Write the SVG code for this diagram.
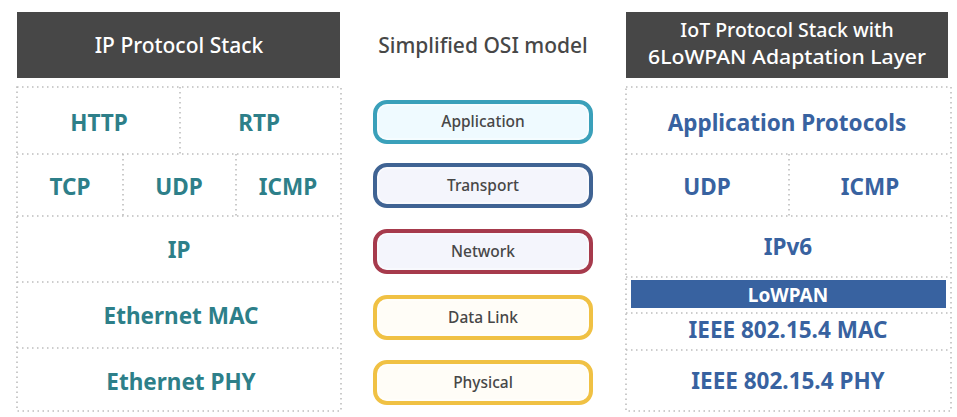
<svg xmlns="http://www.w3.org/2000/svg" width="957" height="417" viewBox="0 0 957 417">
<style>
.hdr{fill:#474747}
.htxt{fill:#ffffff;font-family:"Noto Sans","Open Sans",sans-serif;font-size:21px;font-weight:500;text-anchor:middle}
.htxt2{fill:#ffffff;font-family:"Noto Sans","Open Sans",sans-serif;font-size:19.5px;font-weight:500;text-anchor:middle}
.title{fill:#474747;font-family:"Noto Sans","Open Sans",sans-serif;font-size:21px;font-weight:500;text-anchor:middle}
.dot{fill:none;stroke:#bdbdbd;stroke-width:1.6;stroke-dasharray:1.5 3.5}
.lt{fill:#2d7f89;font-family:"Noto Sans","Open Sans",sans-serif;font-size:22.5px;font-weight:700;text-anchor:middle}
.rt{fill:#3862a0;font-family:"Noto Sans","Open Sans",sans-serif;font-size:22.5px;font-weight:700;text-anchor:middle}
.osi{font-family:"Noto Sans","Open Sans",sans-serif;font-size:15.5px;font-weight:500;fill:#474747;text-anchor:middle}
.box{stroke-width:4}
.inner{fill:none;stroke-width:1.5;stroke:#ffffff;stroke-opacity:0.5}
</style>
<rect width="957" height="417" fill="#ffffff"/>

<g id="left-header">
<rect class="hdr" x="17" y="12" width="323" height="66"/>
<text class="htxt" x="179" y="53">IP Protocol Stack</text>
</g>
<g id="osi-title">
<text class="title" x="483" y="53">Simplified OSI model</text>
</g>
<g id="right-header">
<rect class="hdr" x="626" y="12" width="322" height="66"/>
<text class="htxt2" x="787" y="37">IoT Protocol Stack with</text>
<text class="htxt2" x="787" y="64" textLength="278" lengthAdjust="spacingAndGlyphs">6LoWPAN Adaptation Layer</text>
</g>

<g id="left-grid">
<rect class="dot" x="17" y="87" width="324" height="324"/>
<line class="dot" x1="17" y1="154" x2="341" y2="154"/>
<line class="dot" x1="17" y1="216" x2="341" y2="216"/>
<line class="dot" x1="17" y1="282" x2="341" y2="282"/>
<line class="dot" x1="17" y1="348" x2="341" y2="348"/>
<line class="dot" x1="180" y1="87" x2="180" y2="154"/>
<line class="dot" x1="123" y1="154" x2="123" y2="216"/>
<line class="dot" x1="236" y1="154" x2="236" y2="216"/>
</g>
<g id="http"><text class="lt" x="99" y="131">HTTP</text></g>
<g id="rtp"><text class="lt" x="259" y="131">RTP</text></g>
<g id="tcp"><text class="lt" x="70" y="195">TCP</text></g>
<g id="udp-l"><text class="lt" x="179" y="195">UDP</text></g>
<g id="icmp-l"><text class="lt" x="288" y="195">ICMP</text></g>
<g id="ip"><text class="lt" x="179" y="258">IP</text></g>
<g id="eth-mac"><text class="lt" x="181" y="324">Ethernet MAC</text></g>
<g id="eth-phy"><text class="lt" x="181" y="390">Ethernet PHY</text></g>

<g id="osi-application">
<rect class="box" x="375" y="102" width="216" height="40" rx="12" fill="#effaff" stroke="#3aa0ba"/>
<rect class="inner" x="378" y="105" width="210" height="34" rx="9"/>
<text class="osi" x="483" y="127">Application</text>
</g>
<g id="osi-transport">
<rect class="box" x="375" y="165" width="216" height="41" rx="12" fill="#f4f5fc" stroke="#3f6393"/>
<rect class="inner" x="378" y="168" width="210" height="35" rx="9"/>
<text class="osi" x="483" y="191">Transport</text>
</g>
<g id="osi-network">
<rect class="box" x="375" y="231" width="216" height="41" rx="12" fill="#f4f5fc" stroke="#a63a4c"/>
<rect class="inner" x="378" y="234" width="210" height="35" rx="9"/>
<text class="osi" x="483" y="257">Network</text>
</g>
<g id="osi-datalink">
<rect class="box" x="375" y="297" width="216" height="41" rx="12" fill="#fffdf7" stroke="#f0c144"/>
<rect class="inner" x="378" y="300" width="210" height="35" rx="9"/>
<text class="osi" x="483" y="323">Data Link</text>
</g>
<g id="osi-physical">
<rect class="box" x="375" y="362" width="216" height="41" rx="12" fill="#fffdf7" stroke="#f0c144"/>
<rect class="inner" x="378" y="365" width="210" height="35" rx="9"/>
<text class="osi" x="483" y="388">Physical</text>
</g>

<g id="right-grid">
<rect class="dot" x="626" y="87" width="325" height="324"/>
<line class="dot" x1="626" y1="154" x2="951" y2="154"/>
<line class="dot" x1="626" y1="216" x2="951" y2="216"/>
<line class="dot" x1="626" y1="277" x2="951" y2="277"/>
<line class="dot" x1="626" y1="313" x2="951" y2="313"/>
<line class="dot" x1="626" y1="350" x2="951" y2="350"/>
<line class="dot" x1="789" y1="154" x2="789" y2="216"/>
</g>
<g id="app-protocols"><text class="rt" x="787" y="131">Application Protocols</text></g>
<g id="udp-r"><text class="rt" x="707" y="195">UDP</text></g>
<g id="icmp-r"><text class="rt" x="870" y="195">ICMP</text></g>
<g id="ipv6"><text class="rt" x="788" y="255">IPv6</text></g>
<g id="lowpan">
<rect x="631" y="280" width="315" height="28" fill="#3862a0"/>
<text class="rt" x="788" y="302" style="fill:#ffffff;font-size:19px">LoWPAN</text>
</g>
<g id="ieee-mac"><text class="rt" x="788" y="338">IEEE 802.15.4 MAC</text></g>
<g id="ieee-phy"><text class="rt" x="788" y="389">IEEE 802.15.4 PHY</text></g>
<g id="connectors"/>
</svg>
